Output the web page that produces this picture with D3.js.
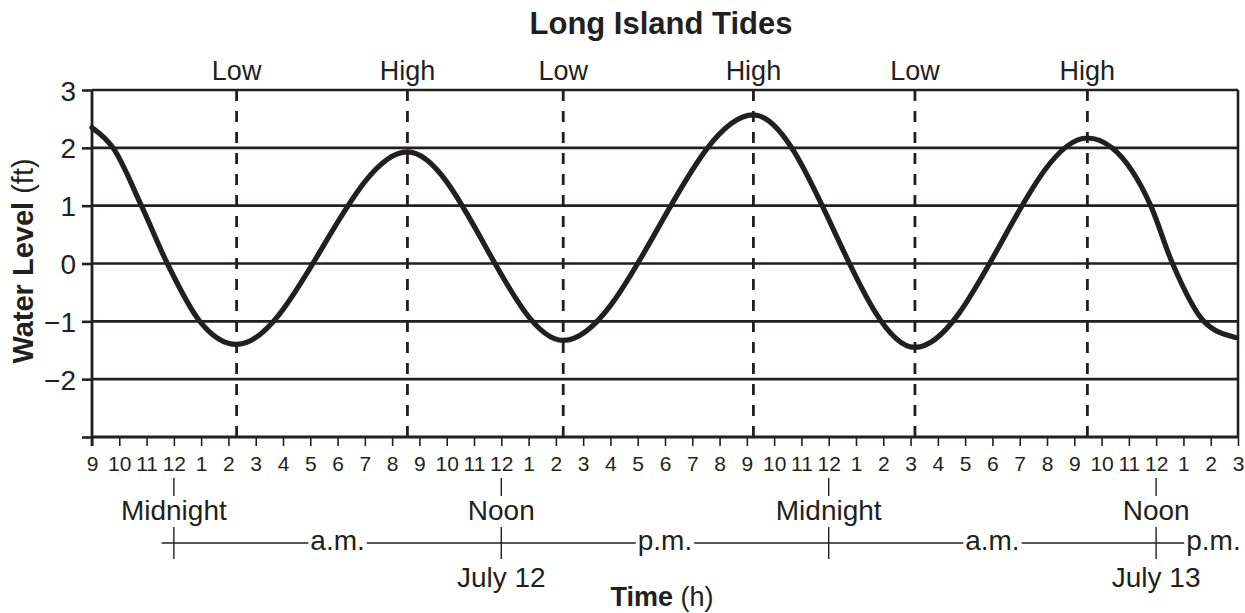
<!DOCTYPE html>
<html>
<head>
<meta charset="utf-8">
<style>
    body { margin: 0; background: #fff; }
    text { font-family: "Liberation Sans", Arial, Helvetica, sans-serif; fill: #231f20; }
</style>
</head>
<body>
<svg width="1245" height="613"></svg>
<script src="https://cdn.jsdelivr.net/npm/d3@7"></script>
<script>
// hours since 9 p.m. July 11 (0 .. 42)
const hourLabels = ["9","10","11","12","1","2","3","4","5","6","7","8",
                    "9","10","11","12","1","2","3","4","5","6","7","8",
                    "9","10","11","12","1","2","3","4","5","6","7","8",
                    "9","10","11","12","1","2","3"];
const levelTicks = [-3, -2, -1, 0, 1, 2, 3];
const levelLabels = ["", "\u22122", "\u22121", "0", "1", "2", "3"];

// high / low tide events
const tideTimes = [5.30, 11.56, 17.27, 24.24, 30.16, 36.48];
const tideKinds = ["Low", "High", "Low", "High", "Low", "High"];

// water level curve
const curveTimes  = [0, 0.77, 1.81, 2.76, 3.95, 5.30, 11.56, 17.27, 24.24, 30.16, 36.48, 37.38, 38.8, 39.6, 40.75, 41.9];
const curveLevels = [2.35, 2.0, 1.0, 0.0, -1.0, -1.40, 1.93, -1.33, 2.57, -1.45, 2.17, 2.0, 1.0, 0.0, -1.0, -1.28];

// day labels under the axis
const markTimes = [3, 15, 27, 39];
const markNames = ["Midnight", "Noon", "Midnight", "Noon"];
const markDates = ["", "July 12", "", "July 13"];
const periodTimes = [9, 21, 33, 41.1];
const periodNames = ["a.m.", "p.m.", "a.m.", "p.m."];

const INK = "#231f20";
const svg = d3.select("svg");

const x = d3.scaleLinear().domain([0, 42]).range([92, 1238]);
const y = d3.scaleLinear().domain([-3, 3]).range([437, 90]);

// title
svg.append("text")
    .attr("x", 661).attr("y", 34)
    .attr("text-anchor", "middle")
    .style("font-size", "31px").style("font-weight", "bold")
    .text("Long Island Tides");

// horizontal grid lines + frame
svg.append("g").selectAll("line")
    .data(levelTicks.filter(d => d > -3))
    .join("line")
    .attr("x1", x(0)).attr("x2", x(42))
    .attr("y1", d => y(d)).attr("y2", d => y(d))
    .attr("stroke", INK).attr("stroke-width", 2.6);

svg.append("line")
    .attr("x1", x(42)).attr("x2", x(42))
    .attr("y1", y(3)).attr("y2", y(-3))
    .attr("stroke", INK).attr("stroke-width", 2.6);

// y axis
const yAxis = d3.axisLeft(y)
    .tickValues(levelTicks)
    .tickFormat((d, i) => levelLabels[i])
    .tickSize(10)
    .tickPadding(6);
const gy = svg.append("g").attr("transform", `translate(${x(0)},0)`).call(yAxis);
gy.select(".domain").remove();
gy.selectAll("line").attr("stroke", INK).attr("stroke-width", 2.6);
gy.selectAll("text").style("font-size", "28px").attr("dy", "0.36em");

// x axis
const xAxis = d3.axisBottom(x)
    .tickValues(d3.range(0, 43))
    .tickFormat((d, i) => hourLabels[i])
    .tickSize(9)
    .tickPadding(10);
const gx = svg.append("g").attr("transform", `translate(0,${y(-3)})`).call(xAxis);
gx.select(".domain").remove();
gx.selectAll("line").attr("stroke", INK).attr("stroke-width", 1.6);
gx.selectAll("text").style("font-size", "21px").attr("dy", "0.71em");

// axis lines
svg.append("line")
    .attr("x1", x(0)).attr("x2", x(42))
    .attr("y1", y(-3)).attr("y2", y(-3))
    .attr("stroke", INK).attr("stroke-width", 2.8);
svg.append("line")
    .attr("x1", x(0)).attr("x2", x(0))
    .attr("y1", y(3)).attr("y2", y(-3) + 9)
    .attr("stroke", INK).attr("stroke-width", 2.8);

// y axis title
const yTitle = svg.append("text")
    .attr("transform", "translate(33,261) rotate(-90)")
    .attr("text-anchor", "middle")
    .style("font-size", "29px");
yTitle.append("tspan").style("font-weight", "bold").text("Water Level");
yTitle.append("tspan").text(" (ft)");

// high / low dashed markers
svg.append("g").selectAll("line")
    .data(tideTimes)
    .join("line")
    .attr("x1", d => x(d)).attr("x2", d => x(d))
    .attr("y1", y(3)).attr("y2", y(-3) + 8)
    .attr("stroke", INK).attr("stroke-width", 2.8)
    .attr("stroke-dasharray", "11,10");

svg.append("g").selectAll("text")
    .data(tideTimes)
    .join("text")
    .attr("x", d => x(d)).attr("y", 80)
    .attr("text-anchor", "middle")
    .style("font-size", "27px")
    .text((d, i) => tideKinds[i]);

// tide curve
const pts = curveTimes.map((t, i) => [t, curveLevels[i]]);
svg.append("path")
    .datum(pts)
    .attr("fill", "none")
    .attr("stroke", INK)
    .attr("stroke-width", 5.2)
    .attr("stroke-linecap", "round")
    .attr("d", d3.line().x(d => x(d[0])).y(d => y(d[1])).curve(d3.curveMonotoneX));

// midnight / noon labels
const marks = svg.append("g");
markTimes.forEach((t, i) => {
    marks.append("line")
        .attr("x1", x(t)).attr("x2", x(t))
        .attr("y1", 478).attr("y2", 496)
        .attr("stroke", INK).attr("stroke-width", 1.4);
    marks.append("text")
        .attr("x", x(t)).attr("y", 520)
        .attr("text-anchor", "middle")
        .style("font-size", "28px")
        .text(markNames[i]);
    marks.append("line")
        .attr("x1", x(t)).attr("x2", x(t))
        .attr("y1", 527).attr("y2", 559)
        .attr("stroke", INK).attr("stroke-width", 1.4);
    if (markDates[i]) {
        marks.append("text")
            .attr("x", x(t)).attr("y", 587)
            .attr("text-anchor", "middle")
            .style("font-size", "28px")
            .text(markDates[i]);
    }
});

// a.m. / p.m. time line with gaps around the words
const lineY = 543;
const boxes = [];
periodTimes.forEach((t, i) => {
    const txt = marks.append("text")
        .attr("x", x(t)).attr("y", 550)
        .attr("text-anchor", "middle")
        .style("font-size", "28px")
        .text(periodNames[i]);
    boxes.push(txt.node().getBBox());
});
let startX = x(2.55);
boxes.forEach(b => {
    marks.append("line")
        .attr("x1", startX).attr("x2", b.x - 2)
        .attr("y1", lineY).attr("y2", lineY)
        .attr("stroke", INK).attr("stroke-width", 1.4);
    startX = b.x + b.width + 2;
});

// x axis title
const xTitle = svg.append("text")
    .attr("x", 662).attr("y", 606)
    .attr("text-anchor", "middle")
    .style("font-size", "27px");
xTitle.append("tspan").style("font-weight", "bold").text("Time");
xTitle.append("tspan").text(" (h)");
</script>
</body>
</html>
